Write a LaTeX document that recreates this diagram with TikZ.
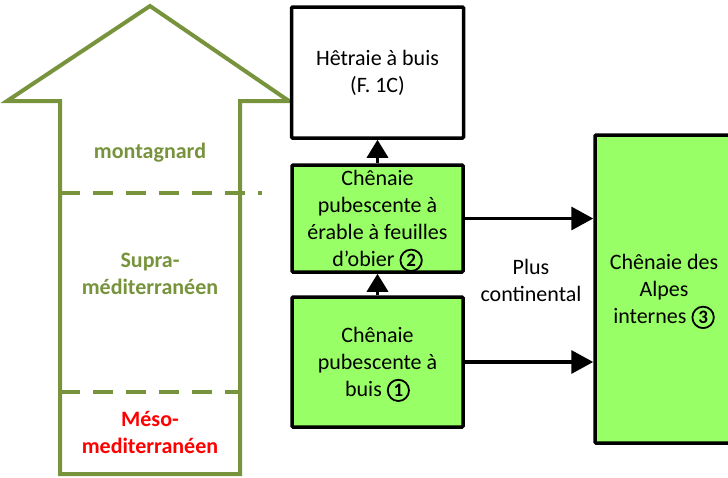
\documentclass[tikz,border=0pt]{standalone}
\usepackage{fontspec}
\setmainfont{Carlito}
\usetikzlibrary{arrows.meta}
\definecolor{olive}{HTML}{77933C}
\definecolor{boxgreen}{HTML}{99FF66}
\newcommand\cnum[1]{\smash{\tikz[baseline,x=1cm,y=1cm]\node[anchor=base,circle,draw=black,fill=none,text=black,minimum width=0pt,minimum height=0pt,inner sep=2pt,rounded corners=0pt,line width=1.8pt,font=\bfseries\fontsize{19}{19}\selectfont]{#1};}}
\tikzset{
  txt/.style={align=center,font=\fontsize{22}{27}\selectfont},
  zone/.style={txt,font=\bfseries\fontsize{22}{27}\selectfont,text=olive},
  vbox/.style={txt,draw=black,line width=3.5pt,rounded corners=1pt,inner sep=0pt},
  gbox/.style={vbox,fill=boxgreen},
  harrow/.style={line width=3.5pt,-{Triangle[length=22pt,width=23pt]}},
  varrow/.style={line width=3.5pt,-{Triangle[length=18pt,width=21pt]}},
  zline/.style={olive,line width=4pt,dash pattern=on 20pt off 13pt},
}
\begin{document}
\begin{tikzpicture}[x=1pt,y=-1pt]
\useasboundingbox (0,0) rectangle (728,477);
\clip (0,0) rectangle (728,477);
% big arrow
\draw[olive,line width=4pt,line join=miter]
  (60,474) -- (60,101) -- (7,101) -- (150,6) -- (289,101) -- (240,101) -- (240,474) -- cycle;
\draw[zline] (60,193) -- (262,193);
\draw[zline] (60,392) -- (240,392);
\node[zone] (mont) at (150,153) {montagnard};
\node[zone] (supra) at (150,274) {Supra-\\méditerranéen};
\node[zone,text=red] (meso) at (150,432) {Méso-\\mediterranéen};
% boxes
\node[vbox,fill=white,minimum width=172pt,minimum height=131pt] (hetre) at (377.5,72.5) {Hêtraie à buis\\(F. 1C)};
\node[gbox,minimum width=171pt,minimum height=107pt] (erable) at (377.5,218.5) {Chênaie\\pubescente à\\érable à feuilles\\d’obier \cnum{2}};
\node[gbox,minimum width=171pt,minimum height=130pt] (buis) at (377.5,362) {Chênaie\\pubescente à\\buis \cnum{1}};
\node[gbox,minimum width=138pt,minimum height=308pt] (alpes) at (664,289) {Chênaie des\\Alpes\\internes \cnum{3}};
\node[txt] (plus) at (531,280) {Plus\\continental};
% connectors
\draw[varrow] (buis.north) -- (erable.south);
\draw[varrow] (erable.north) -- (hetre.south);
\draw[harrow] (erable.east) -- (erable.east -| alpes.west);
\draw[harrow] (buis.east) -- (buis.east -| alpes.west);
\end{tikzpicture}
\end{document}
